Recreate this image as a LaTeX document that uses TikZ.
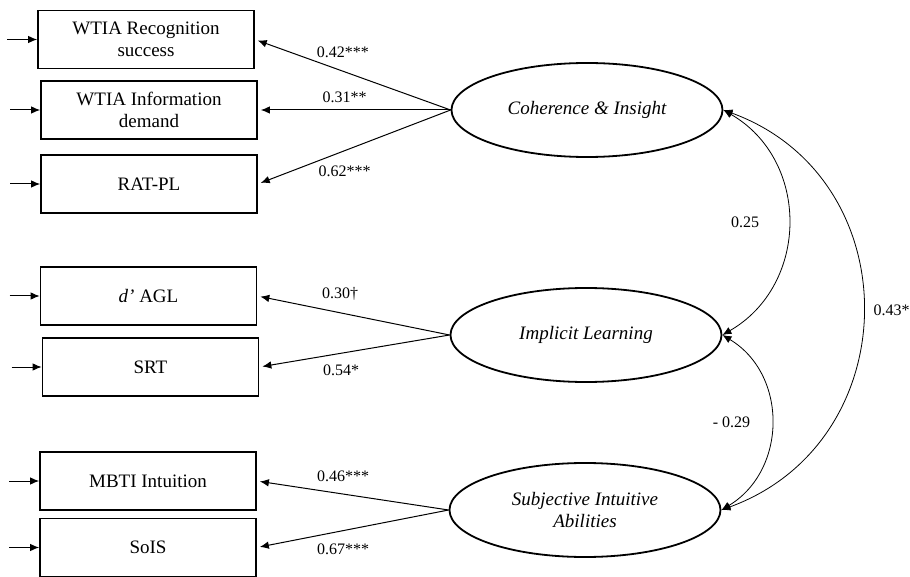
\documentclass[tikz,border=0pt]{standalone}
\usepackage{fontspec}
\setmainfont{Liberation Serif}
\usetikzlibrary{positioning, arrows.meta, shapes.geometric}

\begin{document}
\begin{tikzpicture}[
        x=0.5pt, y=0.5pt,
        >={Latex[length=4.5pt,width=3.8pt]},
        indicator/.style={draw, line width=0.9pt, rectangle, minimum width=108pt, minimum height=29pt, inner sep=0pt, align=center, font=\fontsize{9.5}{11}\selectfont},
        latent/.style={draw, line width=0.9pt, ellipse, minimum width=135.5pt, minimum height=47pt, inner sep=0pt, align=center, font=\fontsize{9.5}{11}\selectfont\itshape},
        loading/.style={->, line width=0.5pt, shorten >=1.5pt},
        coef/.style={font=\fontsize{8}{9.6}\selectfont},
        covar/.style={<->, line width=0.4pt},
    ]
    \useasboundingbox (0,0) rectangle (910,-577);

    % Draw the observed indicators
    \node[indicator] (O-1) at (146,-39.5) {WTIA Recognition\\success};
    \node[indicator] (O-2) at (149,-110) {WTIA Information\\demand};
    \node[indicator] (O-3) at (149,-184) {RAT-PL};
    \node[indicator] (O-4) at (148.5,-296) {\textit{d’} AGL};
    \node[indicator] (O-5) at (150.5,-367) {SRT};
    \node[indicator] (O-6) at (148,-481) {MBTI Intuition};
    \node[indicator] (O-7) at (148,-547.5) {SoIS};

    % Error terms pointing into every indicator
    \foreach \name in {1,...,7}{
        \coordinate (E-\name) at ([xshift=-15pt]O-\name.west);
        \draw[->, line width=0.5pt] (E-\name) -- (O-\name);
    }

    % Draw the latent factors
    \node[latent] (L-1) at (587,-110) {Coherence \& Insight};
    \node[latent] (L-2) at (586,-335) {Implicit Learning};
    \node[latent] (L-3) at (585,-510) {Subjective Intuitive\\Abilities};

    % Factor loadings
    \draw[loading] (L-1.west) -- node[coef, pos=0.55, above=3pt] {0.42***} (O-1.east);
    \draw[loading] (L-1.west) -- node[coef, pos=0.55, above] {0.31**} (O-2.east);
    \draw[loading] (L-1.west) -- node[coef, pos=0.55, below=4pt] {0.62***} (O-3.east);
    \draw[loading] (L-2.west) -- node[coef, pos=0.57, above=2.5pt] {0.30\textdagger} (O-4.east);
    \draw[loading] (L-2.west) -- node[coef, pos=0.57, below=2pt] {0.54*} (O-5.east);
    \draw[loading] (L-3.west) -- node[coef, pos=0.55, above=2.5pt] {0.46***} (O-6.east);
    \draw[loading] (L-3.west) -- node[coef, pos=0.55, below=3pt] {0.67***} (O-7.east);

    % Correlations between the factors
    \draw[covar] (L-1.east) to[out=-30, in=30, looseness=1.14] node[coef, left=11pt] {0.25} (L-2.east);
    \draw[covar] (L-2.east) to[out=-31, in=31, looseness=1.12] node[coef, left=7pt] {- 0.29} (L-3.east);
    \draw[covar] (L-1.east) to[out=-20, in=20, looseness=1.27] node[coef, right=2pt] {0.43**} (L-3.east);
\end{tikzpicture}
\end{document}
